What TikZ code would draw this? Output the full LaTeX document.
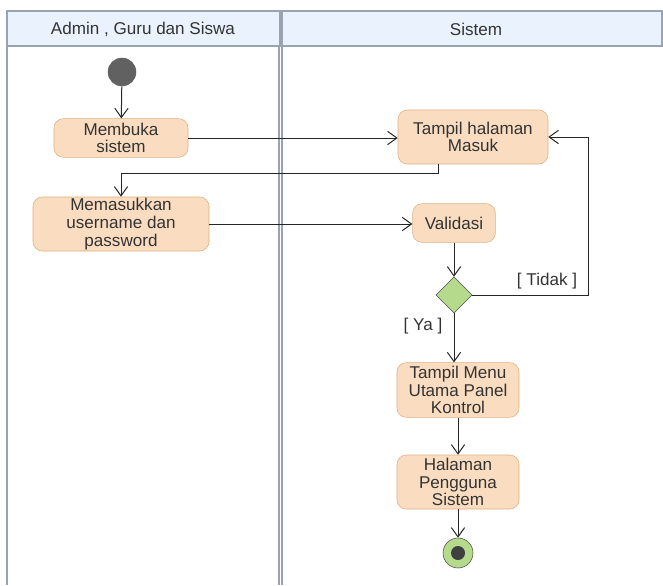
\documentclass[tikz,border=0pt]{standalone}
\usepackage{fontspec}
\setmainfont{Liberation Sans}
\usetikzlibrary{shapes.geometric}
\usetikzlibrary{positioning}
\usetikzlibrary{arrows.meta}
\definecolor{boxfill}{HTML}{FADDC0}
\definecolor{boxdraw}{HTML}{E0AE7C}
\definecolor{headfill}{HTML}{EAF3FD}
\definecolor{lanedraw}{HTML}{98A4B2}
\definecolor{decfill}{HTML}{B6DA8C}
\definecolor{txt}{HTML}{333333}
\tikzset{
    mynode/.style = {rectangle, rounded corners=7pt, draw=boxdraw, fill=boxfill, align=center, text=txt, inner sep=0pt, font=\fontsize{12.8}{13.2}\selectfont},
    mydec/.style = {diamond, draw=black!70, fill=decfill, minimum width=27pt, minimum height=27pt, inner sep=0pt},
    mystart/.style = {circle, draw=black!60, fill=black!62, minimum size=21pt, inner sep=0pt},
    myend/.style = {circle, draw=black!70, fill=decfill, minimum size=22.5pt, inner sep=0pt},
    myendin/.style = {circle, fill=black!75, minimum size=10.5pt, inner sep=0pt},
    lane/.style = {draw=lanedraw, line width=0.8pt},
    lanehead/.style = {draw=lanedraw, fill=headfill, line width=0.8pt},
    guard/.style = {text=txt, inner sep=1pt, font=\fontsize{12.8}{13.2}\selectfont},
    edgen/.style = {-{Straight Barb[length=7pt,width=10pt]}, line width=0.75pt, black!85}
}

\begin{document}
\begin{tikzpicture}[x=0.75pt, y=-0.75pt]
  \useasboundingbox (0,0) rectangle (663,585);

  % swimlanes
  \path[lanehead] (7,11) rectangle (280,46);
  \path[lanehead] (282,11) rectangle (662,46);
  \draw[lane] (7,46) -- (7,585);
  \draw[lane] (279,46) -- (279,585);
  \draw[lane] (282,46) -- (282,585);
  \node[text=txt, font=\fontsize{12.8}{13.2}\selectfont] (hadmin) at (143,29) {Admin , Guru dan Siswa};
  \node[text=txt, font=\fontsize{12.8}{13.2}\selectfont] (hsistem) at (476,29) {Sistem};

  % actions
  \node[mystart] (start) at (122,72) {};
  \node[mynode, minimum width=100.5pt, minimum height=29pt] (buka) at (121,138) {Membuka\\sistem};
  \node[mynode, minimum width=112.5pt, minimum height=40.5pt] (masuk) at (473,137) {Tampil halaman\\Masuk};
  \node[mynode, minimum width=132pt, minimum height=40.5pt] (user) at (121,224) {Memasukkan\\username dan\\password};
  \node[mynode, minimum width=62pt, minimum height=29pt] (valid) at (454,223) {Validasi};
  \node[mydec] (dec) at (454,295) {};
  \node[mynode, minimum width=91.5pt, minimum height=41pt] (menu) at (458,390) {Tampil Menu\\Utama Panel\\Kontrol};
  \node[mynode, minimum width=91.5pt, minimum height=40.5pt] (guna) at (458,482) {Halaman\\Pengguna\\Sistem};
  \node[myend] (end) at (458,553) {};
  \node[myendin] (endin) at (end) {};

  % flows
  \draw[edgen] (start) -- (buka);
  \draw[edgen] (buka.east) -- (masuk.west |- buka.east);
  \draw[edgen] ([xshift=-26.25pt]masuk.south) -- ++(0,9) -| (user.north);
  \draw[edgen] (user.east) -- (valid.west |- user.east);
  \draw[edgen] (valid.south) -- (dec.north);
  \draw[edgen] (dec.east) -| ([xshift=30pt]masuk.east) -- (masuk.east);
  \draw[edgen] (dec.south) -- (dec.south |- menu.north);
  \draw[edgen] (menu) -- (guna);
  \draw[edgen] (guna) -- (end);

  % guards
  \node[guard] (tidak) at (547,281) {[ Tidak ]};
  \node[guard] (ya) at (423,326) {[ Ya ]};

\end{tikzpicture}
\end{document}
